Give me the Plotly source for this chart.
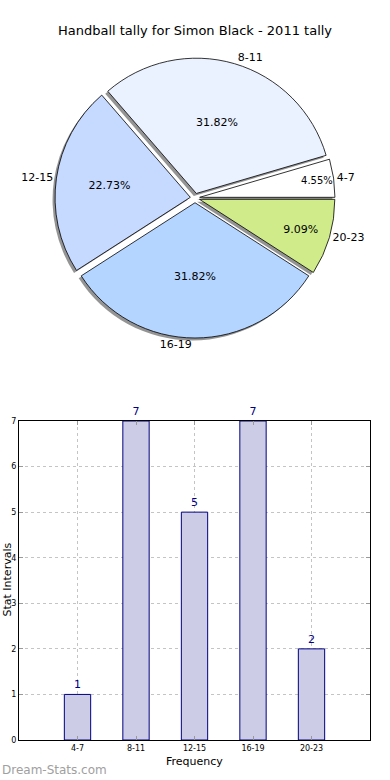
import plotly.graph_objects as go

# ---- data ----
categories = ["4-7", "8-11", "12-15", "16-19", "20-23"]
tally = [1, 7, 5, 7, 2]
pie_colors = ["#ffffff", "#eaf1ff", "#c6d9ff", "#b4d5ff", "#d0eb8a"]
explode = [0.035, 0.035, 0.035, 0.035, 0.035]
y_ticks = [0, 1, 2, 3, 4, 5, 6, 7]
title_text = "Handball tally for Simon Black - 2011 tally"

W, H = 390, 780
FONT = "DejaVu Sans"

# first slice starts at 3 o'clock, counterclockwise (plotly anchors the first slice's end)
rotation = 90 - 360 * tally[0] / sum(tally)

# pie placement (pixels -> paper)
cx, cy, R = 195, 198, 140
dom_x = [(cx - R) / W, (cx + R) / W]
dom_y = [1 - (cy + R) / H, 1 - (cy - R) / H]
sdx, sdy = -2.5 / W, -2.5 / H

fig = go.Figure()

common = dict(labels=categories, values=tally, sort=False, direction="counterclockwise",
              rotation=rotation, pull=explode, showlegend=False)

# shadow
fig.add_trace(go.Pie(
    **common,
    marker=dict(colors=["rgba(0,0,0,0.42)"] * 5, line=dict(width=0)),
    textinfo="none", hoverinfo="skip",
    domain=dict(x=[dom_x[0] + sdx, dom_x[1] + sdx], y=[dom_y[0] + sdy, dom_y[1] + sdy]),
))
# main pie
fig.add_trace(go.Pie(
    **common,
    marker=dict(colors=pie_colors, line=dict(color="#000000", width=0.8)),
    texttemplate="%{percent:.2%}", textposition="inside",
    insidetextorientation="horizontal",
    textfont=dict(family=FONT, size=11, color="#000000"),
    domain=dict(x=dom_x, y=dom_y),
))
# outside labels
fig.add_trace(go.Pie(
    **common,
    marker=dict(colors=["rgba(0,0,0,0)"] * 5, line=dict(width=0)),
    texttemplate="%{label}", textposition="outside",
    textfont=dict(family=FONT, size=11, color="#000000"),
    hoverinfo="skip", domain=dict(x=dom_x, y=dom_y),
))

# bar chart
fig.add_trace(go.Bar(
    x=categories, y=tally, width=0.45,
    marker=dict(color="#ccccE6", line=dict(color="#000080", width=1)),
    text=[str(v) for v in tally], textposition="outside",
    textfont=dict(family=FONT, size=11, color="#000080"),
    cliponaxis=False, showlegend=False, xaxis="x", yaxis="y",
))

grid = dict(showgrid=True, gridcolor="#c4c4c4", griddash="dot", gridwidth=1)
fig.update_layout(
    width=W, height=H, margin=dict(l=0, r=0, t=0, b=0, autoexpand=False),
    paper_bgcolor="white", plot_bgcolor="white",
    font=dict(family=FONT, color="#000000"),
    title=dict(text=title_text, x=0.5, xanchor="center", y=1 - 30 / H, yanchor="middle",
               font=dict(family=FONT, size=13, color="#000000")),
    xaxis=dict(domain=[19 / W, 370 / W], anchor="y", type="category", automargin=False,
               range=[-1, 5], showline=True, linecolor="#000000", linewidth=1, mirror="ticks",
               ticks="inside", ticklen=4, tickcolor="#999999",
               tickfont=dict(family=FONT, size=8, color="#000000"), zeroline=False, **grid),
    yaxis=dict(domain=[1 - 740 / H, 1 - 421 / H], anchor="x", automargin=False,
               range=[0, 7], tickvals=y_ticks, showline=True, linecolor="#000000", linewidth=1,
               mirror="ticks", ticks="inside", ticklen=4, tickcolor="#999999",
               tickfont=dict(family=FONT, size=8, color="#000000"), zeroline=False, **grid),
    annotations=[
        dict(text="Frequency", x=194 / W, y=1 - 761 / H, xref="paper", yref="paper",
             xanchor="center", yanchor="middle",
             showarrow=False, font=dict(family=FONT, size=11, color="#000000")),
        dict(text="Stat Intervals", x=6.5 / W, y=1 - 580 / H, xref="paper", yref="paper",
             xanchor="center", yanchor="middle",
             textangle=-90, showarrow=False, font=dict(family=FONT, size=11, color="#000000")),
        dict(text="Dream-Stats.com", x=0, y=1 - 770 / H, xref="paper", yref="paper",
             xanchor="left", yanchor="middle",
             showarrow=False, font=dict(family=FONT, size=12, color="#a0a0a0")),
    ],
)

fig.write_html("out.html", config={"displayModeBar": False},
               post_script="document.body.style.margin='0';")
